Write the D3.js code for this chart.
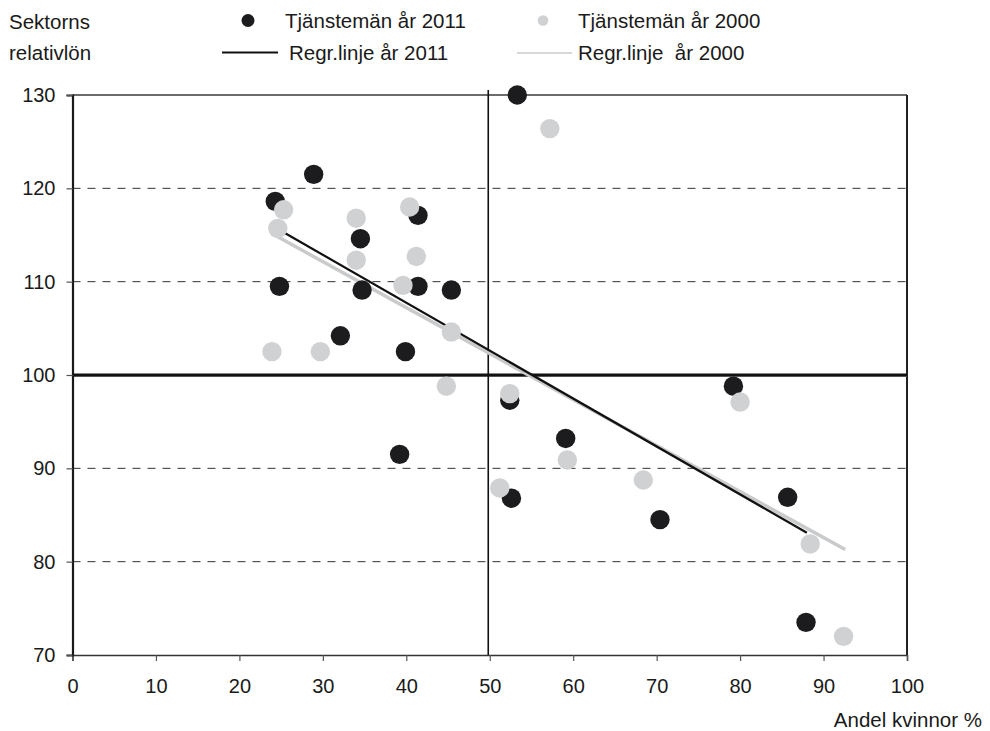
<!DOCTYPE html>
<html>
<head>
<meta charset="utf-8">
<script src="https://cdn.jsdelivr.net/npm/d3@7"></script>
<style>
  html, body { margin: 0; padding: 0; background: #fff; }
  svg text { font-family: "Liberation Sans", Arial, sans-serif; fill: #1a1a1a; }
</style>
</head>
<body>
<svg id="chart" width="990" height="731"></svg>
<script>
// ---- Data ----
const share2011 = [53.3, 28.9, 24.3, 41.4, 34.5, 24.8, 34.7, 41.4, 45.4, 32.1, 39.9, 39.2, 52.4, 52.6, 59.1, 70.4, 79.2, 85.7, 87.9];
const wage2011  = [130.0, 121.5, 118.6, 117.1, 114.6, 109.5, 109.1, 109.5, 109.1, 104.2, 102.5, 91.5, 97.3, 86.8, 93.2, 84.5, 98.8, 86.9, 73.5];
const share2000 = [57.2, 25.3, 24.6, 34.0, 40.4, 41.2, 34.0, 39.6, 45.4, 23.9, 29.7, 44.8, 52.4, 51.2, 59.3, 68.4, 80.0, 88.4, 92.4];
const wage2000  = [126.4, 117.7, 115.7, 116.8, 118.0, 112.7, 112.3, 109.6, 104.6, 102.5, 102.5, 98.8, 98.0, 87.9, 90.9, 88.75, 97.1, 81.9, 72.0];
const regr2011X = [24.5, 88.0];
const regr2011Y = [115.7, 83.1];
const regr2000X = [24.0, 92.6];
const regr2000Y = [115.1, 81.3];
const xTicks = [0, 10, 20, 30, 40, 50, 60, 70, 80, 90, 100];
const yTicks = [70, 80, 90, 100, 110, 120, 130];
const dashedY = [80, 90, 110, 120];
const legendLabels = ["Tjänstemän år 2011", "Tjänstemän år 2000", "Regr.linje år 2011", "Regr.linje\u00a0 år 2000"];
const yTitle = ["Sektorns", "relativlön"];
const xTitle = "Andel kvinnor %";

const BLACK = "#1c1c1e";
const GRAY = "#d0d1d3";
const GRAYLINE = "#c9cacc";

const svg = d3.select("#chart");
const x = d3.scaleLinear().domain([0, 100]).range([72.5, 907]);
const y = d3.scaleLinear().domain([70, 130]).range([655, 95]);

// dashed grid lines
svg.append("g").selectAll("line").data(dashedY).join("line")
  .attr("x1", x(0)).attr("x2", x(100))
  .attr("y1", d => y(d)).attr("y2", d => y(d))
  .attr("stroke", "#333").attr("stroke-width", 1)
  .attr("stroke-dasharray", "8,7");

// top border and right border
svg.append("line").attr("x1", x(0)).attr("x2", x(100)).attr("y1", y(130)).attr("y2", y(130))
  .attr("stroke", "#3a3a3a").attr("stroke-width", 1.5);
svg.append("line").attr("x1", x(100)).attr("x2", x(100)).attr("y1", y(130)).attr("y2", y(70))
  .attr("stroke", "#222").attr("stroke-width", 2);

// reference line at 100
svg.append("line").attr("x1", x(0)).attr("x2", x(100)).attr("y1", y(100) + 1.5).attr("y2", y(100) + 1.5)
  .attr("stroke", "#999").attr("stroke-width", 1);
svg.append("line").attr("x1", x(0)).attr("x2", x(100)).attr("y1", y(100)).attr("y2", y(100))
  .attr("stroke", "#111").attr("stroke-width", 3);

// vertical line at 50
svg.append("line").attr("x1", x(50) - 1.5).attr("x2", x(50) - 1.5).attr("y1", y(130) - 5).attr("y2", y(70))
  .attr("stroke", "#111").attr("stroke-width", 1.6);

// axes
const xAxis = d3.axisBottom(x).tickValues(xTicks).tickSize(6).tickPadding(18).tickFormat(d3.format("d"));
const gx = svg.append("g").attr("transform", `translate(0,${y(70)})`).call(xAxis);
gx.select(".domain").attr("stroke", "#333").attr("stroke-width", 1.5);
gx.selectAll(".tick line").attr("stroke", "#555").attr("stroke-width", 1.2);
gx.selectAll("text").style("font-size", "20px").attr("fill", "#1a1a1a");

const yAxis = d3.axisLeft(y).tickValues(yTicks).tickSize(6).tickPadding(11).tickFormat(d3.format("d"));
const gy = svg.append("g").attr("transform", `translate(${x(0)},0)`).call(yAxis);
gy.select(".domain").attr("stroke", "#1a1a1a").attr("stroke-width", 2.2);
gy.selectAll(".tick line").attr("stroke", "#555").attr("stroke-width", 1.2);
gy.selectAll("text").style("font-size", "20px").attr("fill", "#1a1a1a");

// regression lines
const line = d3.line().x(d => x(d[0])).y(d => y(d[1]));
svg.append("path").datum(d3.zip(regr2000X, regr2000Y)).attr("d", line)
  .attr("stroke", GRAYLINE).attr("stroke-width", 3.5).attr("fill", "none");
svg.append("path").datum(d3.zip(regr2011X, regr2011Y)).attr("d", line)
  .attr("stroke", "#111").attr("stroke-width", 2.2).attr("fill", "none");

// points
const R = 9.7;
svg.append("g").selectAll("circle").data(d3.zip(share2011, wage2011)).join("circle")
  .attr("cx", d => x(d[0])).attr("cy", d => y(d[1])).attr("r", R).attr("fill", BLACK);
svg.append("g").selectAll("circle").data(d3.zip(share2000, wage2000)).join("circle")
  .attr("cx", d => x(d[0])).attr("cy", d => y(d[1])).attr("r", R).attr("fill", GRAY);

// y title
svg.append("text").attr("x", 9).attr("y", 29).style("font-size", "20.5px").text(yTitle[0]);
svg.append("text").attr("x", 9).attr("y", 60).style("font-size", "20.5px").text(yTitle[1]);

// x title
svg.append("text").attr("x", 982).attr("y", 727).attr("text-anchor", "end")
  .style("font-size", "20.5px").text(xTitle);

// legend
const lg = svg.append("g");
lg.append("circle").attr("cx", 248).attr("cy", 20.5).attr("r", 6.5).attr("fill", BLACK);
lg.append("text").attr("x", 285).attr("y", 28).style("font-size", "20.5px").text(legendLabels[0]);
lg.append("circle").attr("cx", 543).attr("cy", 20.5).attr("r", 5.3).attr("fill", GRAY);
lg.append("text").attr("x", 578).attr("y", 28).style("font-size", "20.5px").text(legendLabels[1]);
lg.append("line").attr("x1", 222).attr("x2", 278).attr("y1", 52.5).attr("y2", 52.5)
  .attr("stroke", "#111").attr("stroke-width", 1.8);
lg.append("text").attr("x", 289).attr("y", 60).style("font-size", "20.5px").text(legendLabels[2]);
lg.append("line").attr("x1", 517).attr("x2", 572).attr("y1", 53).attr("y2", 53)
  .attr("stroke", GRAYLINE).attr("stroke-width", 1.5);
lg.append("text").attr("x", 578).attr("y", 60).style("font-size", "20.5px").text(legendLabels[3]);
</script>
</body>
</html>
